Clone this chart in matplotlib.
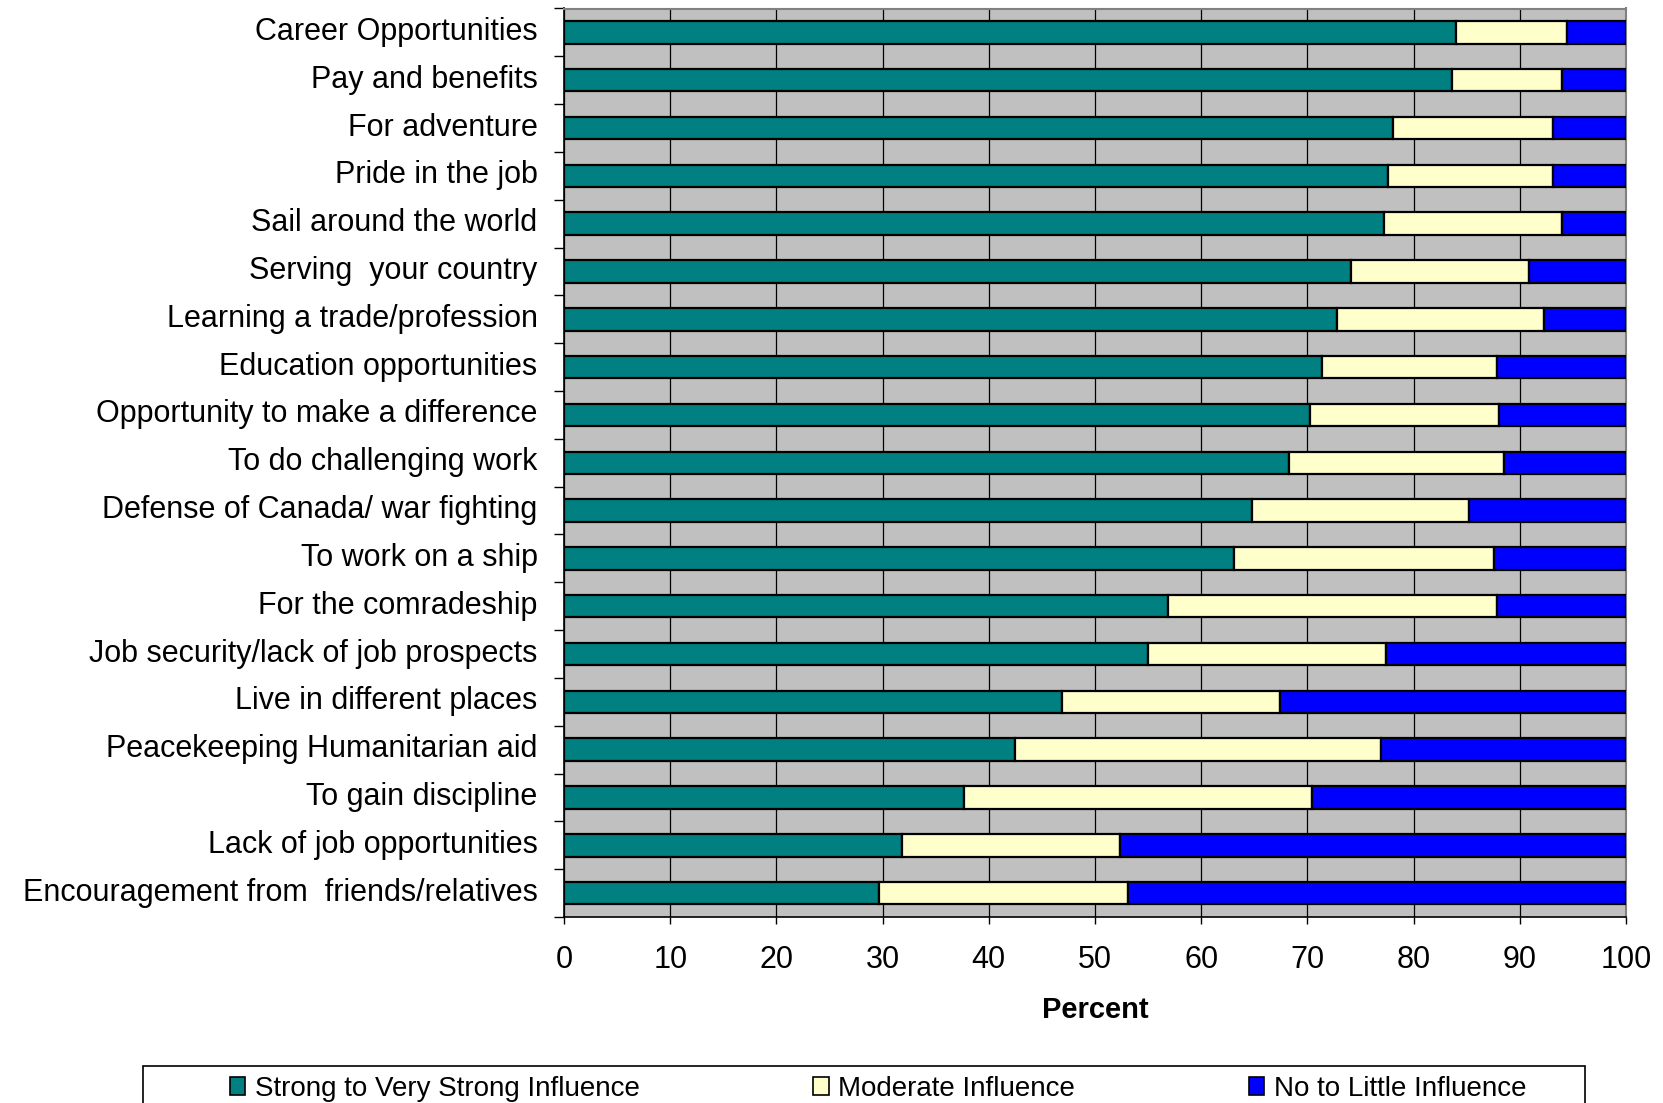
import matplotlib
matplotlib.use("Agg")
import matplotlib.pyplot as plt
import matplotlib.transforms as mtransforms
from matplotlib.patches import Patch, Rectangle
from matplotlib.ticker import FixedLocator
import numpy as np

plt.rcParams['font.family'] = ['Liberation Sans', 'DejaVu Sans']

categories = [
    "Career Opportunities",
    "Pay and benefits",
    "For adventure",
    "Pride in the job",
    "Sail around the world",
    "Serving  your country",
    "Learning a trade/profession",
    "Education opportunities",
    "Opportunity to make a difference",
    "To do challenging work",
    "Defense of Canada/ war fighting",
    "To work on a ship",
    "For the comradeship",
    "Job security/lack of job prospects",
    "Live in different places",
    "Peacekeeping Humanitarian aid",
    "To gain discipline",
    "Lack of job opportunities",
    "Encouragement from  friends/relatives",
]

strong = [84.0, 83.6, 78.1, 77.6, 77.2, 74.1, 72.8, 71.4, 70.2, 68.3,
          64.8, 63.1, 56.9, 55.0, 46.9, 42.5, 37.7, 31.8, 29.7]
moderate_end = [94.4, 94.0, 93.1, 93.1, 94.0, 90.9, 92.3, 87.9, 88.0, 88.5,
                85.2, 87.6, 87.9, 77.4, 67.4, 76.9, 70.4, 52.4, 53.1]
moderate = [round(m - s, 1) for m, s in zip(moderate_end, strong)]
little = [round(100 - m, 1) for m in moderate_end]

series_names = ["Strong to Very Strong Influence", "Moderate Influence", "No to Little Influence"]
colors = ["#008080", "#FFFFCC", "#0000FF"]
xticks = [0, 10, 20, 30, 40, 50, 60, 70, 80, 90, 100]

W, H = 1663, 1103
fig = plt.figure(figsize=(W / 100, H / 100), dpi=100)
ax = fig.add_axes([564 / W, 1 - 917 / H, (1626 - 564) / W, (917 - 8.5) / H])
ax.set_facecolor("#C0C0C0")

y = np.arange(len(categories))
left = np.zeros(len(categories))
for vals, col, name in zip([strong, moderate, little], colors, series_names):
    ax.barh(y, vals, left=left, height=0.47, color=col, edgecolor="black",
            linewidth=1.6, label=name, zorder=3)
    left = left + np.array(vals)

ax.set_xlim(0, 100)
ax.set_ylim(len(categories) - 0.5, -0.5)
ax.set_xticks(xticks)
ax.set_xticklabels([str(t) for t in xticks], fontsize=22)
ax.set_yticks(y)
ax.set_yticklabels(categories, fontsize=22)
ax.yaxis.set_minor_locator(FixedLocator(np.arange(-0.5, len(categories), 1.0)))
ax.tick_params(axis="y", which="major", length=0, pad=19)
ax.tick_params(axis="y", which="minor", length=7, width=1, color="black", direction="out")
ax.tick_params(axis="x", which="major", length=5, width=1, direction="out", pad=15)

offset = mtransforms.ScaledTranslation(0, 4 / 100, fig.dpi_scale_trans)
for tick in ax.yaxis.get_major_ticks():
    tick.label1.set_transform(tick.label1.get_transform() + offset)

ax.grid(axis="x", color="black", linewidth=0.9, zorder=0)
ax.set_axisbelow(True)

for side in ["top", "right"]:
    ax.spines[side].set_color("#808080")
    ax.spines[side].set_linewidth(1.5)
for side in ["left", "bottom"]:
    ax.spines[side].set_color("black")
    ax.spines[side].set_linewidth(1.2)

ax.set_xlabel("Percent", fontsize=21, fontweight="bold", labelpad=15)

# legend frame (extends beyond the bottom edge, as in the original)
fig.patches.append(Rectangle((143 / W, -0.05), (1585 - 143) / W, 1 - 1066 / H + 0.05,
                             transform=fig.transFigure, facecolor="white",
                             edgecolor="black", linewidth=1.2, zorder=0))
handles = [Patch(facecolor=c, edgecolor="black", linewidth=1.2) for c in colors]
fig.legend(handles, series_names, loc="center left",
           bbox_to_anchor=(230 / W, 1 - 1089 / H), ncol=3, frameon=False,
           fontsize=20, handlelength=0.55, handleheight=0.6, handletextpad=0.35,
           columnspacing=6.25, borderpad=0, borderaxespad=0)

fig.savefig("out.png", dpi=100)
